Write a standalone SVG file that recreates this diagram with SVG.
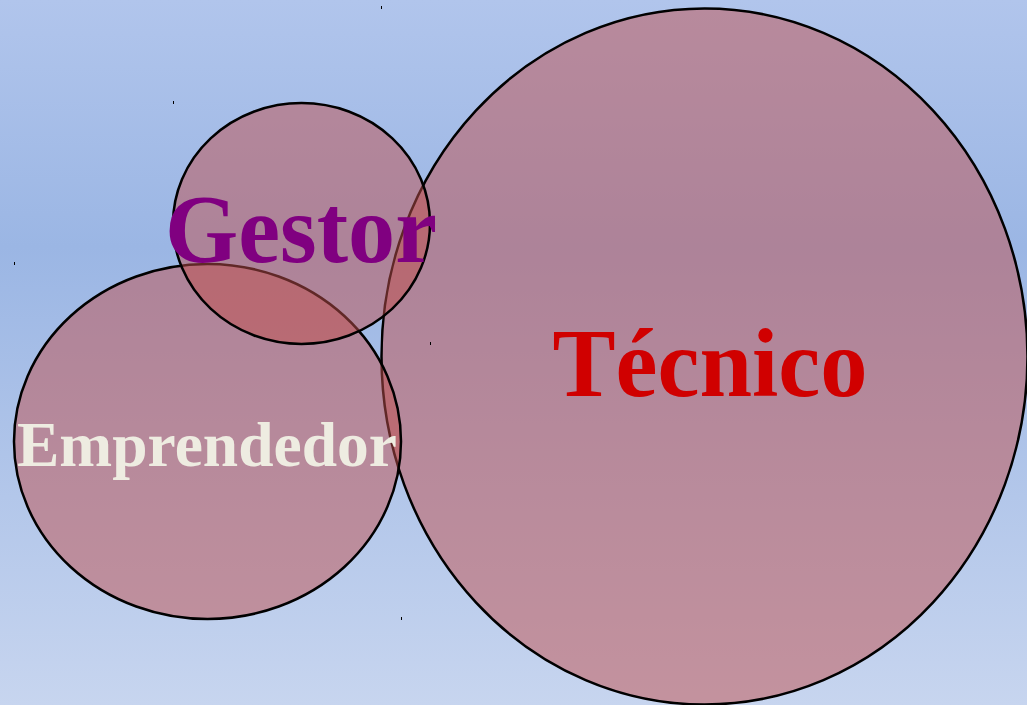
<svg xmlns="http://www.w3.org/2000/svg" width="1027" height="705" viewBox="0 0 1027 705">
  <defs>
    <linearGradient id="bg" x1="0" y1="0" x2="0" y2="1">
      <stop offset="0" stop-color="#b1c5ec"/>
      <stop offset="0.35" stop-color="#9bb6e4"/>
      <stop offset="1" stop-color="#c7d5ef"/>
    </linearGradient>
  </defs>
  <style>
    .set { fill: #c0504d; fill-opacity: 0.5; stroke: #000; stroke-width: 2.5; }
    .lbl { font-family: "Liberation Serif", "Times New Roman", serif; font-weight: bold; text-anchor: middle; }
    .mark { fill: #000; }
  </style>
  <rect x="0" y="0" width="1027" height="705" fill="url(#bg)"/>
  <g id="tecnico">
    <ellipse class="set" cx="704.5" cy="356.5" rx="323" ry="348"/>
  </g>
  <g id="emprendedor">
    <ellipse class="set" cx="207.5" cy="441.5" rx="193.5" ry="177.5"/>
  </g>
  <g id="gestor">
    <ellipse class="set" cx="301.5" cy="223.5" rx="128.5" ry="120.5"/>
  </g>
  <g id="labels">
    <text class="lbl" x="301" y="262" font-size="97" fill="#800080" textLength="272" lengthAdjust="spacingAndGlyphs">Gestor</text>
    <text class="lbl" x="710" y="396" font-size="97" fill="#d00000" textLength="315" lengthAdjust="spacingAndGlyphs">Técnico</text>
    <text class="lbl" x="207" y="466" font-size="63" fill="#eeece1" textLength="380" lengthAdjust="spacingAndGlyphs">Emprendedor</text>
  </g>
  <g id="marks">
    <rect class="mark" x="381" y="6" width="1" height="3"/>
    <rect class="mark" x="173" y="101" width="1" height="3"/>
    <rect class="mark" x="14" y="262" width="1" height="3"/>
    <rect class="mark" x="430" y="342" width="1" height="3"/>
    <rect class="mark" x="401" y="617" width="1" height="3"/>
  </g>
</svg>
